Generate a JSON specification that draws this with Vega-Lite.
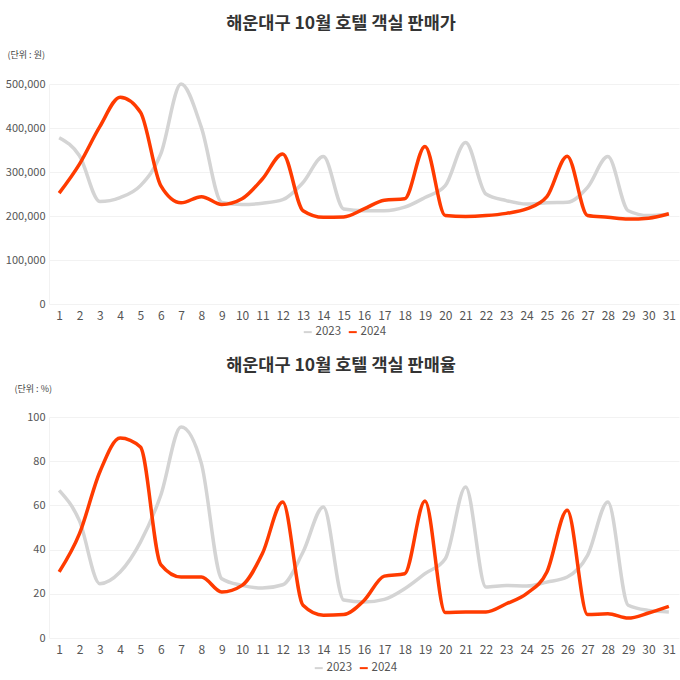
{
  "$schema": "https://vega.github.io/schema/vega-lite/v6.json",
  "padding": {"left": 5, "right": 2, "top": 14, "bottom": 5},
  "background": "white",
  "spacing": 18,
  "resolve": {"legend": {"color": "independent"}},
  "datasets": {
    "hotel": [
      {"day": 1, "year": "2023", "price": 378000, "rate": 66.8},
      {"day": 2, "year": "2023", "price": 337000, "rate": 53},
      {"day": 3, "year": "2023", "price": 233000, "rate": 24.6},
      {"day": 4, "year": "2023", "price": 242000, "rate": 29.9},
      {"day": 5, "year": "2023", "price": 269000, "rate": 43.4},
      {"day": 6, "year": "2023", "price": 341000, "rate": 64.6},
      {"day": 7, "year": "2023", "price": 500000, "rate": 95.5},
      {"day": 8, "year": "2023", "price": 401000, "rate": 78.9},
      {"day": 9, "year": "2023", "price": 231000, "rate": 26.8},
      {"day": 10, "year": "2023", "price": 226000, "rate": 23.8},
      {"day": 11, "year": "2023", "price": 229000, "rate": 22.6},
      {"day": 12, "year": "2023", "price": 237000, "rate": 24.1},
      {"day": 13, "year": "2023", "price": 276000, "rate": 38.9},
      {"day": 14, "year": "2023", "price": 335000, "rate": 59.3},
      {"day": 15, "year": "2023", "price": 216000, "rate": 17.2},
      {"day": 16, "year": "2023", "price": 212000, "rate": 16.3},
      {"day": 17, "year": "2023", "price": 212000, "rate": 17.5},
      {"day": 18, "year": "2023", "price": 220000, "rate": 22.3},
      {"day": 19, "year": "2023", "price": 242000, "rate": 29.1},
      {"day": 20, "year": "2023", "price": 269000, "rate": 35.9},
      {"day": 21, "year": "2023", "price": 367000, "rate": 68.3},
      {"day": 22, "year": "2023", "price": 250000, "rate": 23.1},
      {"day": 23, "year": "2023", "price": 235000, "rate": 23.8},
      {"day": 24, "year": "2023", "price": 227000, "rate": 23.5},
      {"day": 25, "year": "2023", "price": 230000, "rate": 25.3},
      {"day": 26, "year": "2023", "price": 231000, "rate": 27.6},
      {"day": 27, "year": "2023", "price": 265000, "rate": 37.4},
      {"day": 28, "year": "2023", "price": 335000, "rate": 61.5},
      {"day": 29, "year": "2023", "price": 212000, "rate": 14.8},
      {"day": 30, "year": "2023", "price": 201000, "rate": 12.5},
      {"day": 31, "year": "2023", "price": 204000, "rate": 11.8},
      {"day": 1, "year": "2024", "price": 252000, "rate": 29.9},
      {"day": 2, "year": "2024", "price": 318000, "rate": 47.2},
      {"day": 3, "year": "2024", "price": 403000, "rate": 75.1},
      {"day": 4, "year": "2024", "price": 470000, "rate": 90.5},
      {"day": 5, "year": "2024", "price": 436000, "rate": 86.4},
      {"day": 6, "year": "2024", "price": 269000, "rate": 33.2},
      {"day": 7, "year": "2024", "price": 230000, "rate": 27.6},
      {"day": 8, "year": "2024", "price": 244000, "rate": 27.6},
      {"day": 9, "year": "2024", "price": 226000, "rate": 20.8},
      {"day": 10, "year": "2024", "price": 239000, "rate": 23.8},
      {"day": 11, "year": "2024", "price": 284000, "rate": 38.2},
      {"day": 12, "year": "2024", "price": 341000, "rate": 61.5},
      {"day": 13, "year": "2024", "price": 212000, "rate": 14.8},
      {"day": 14, "year": "2024", "price": 197000, "rate": 10.3},
      {"day": 15, "year": "2024", "price": 198000, "rate": 10.6},
      {"day": 16, "year": "2024", "price": 216000, "rate": 17},
      {"day": 17, "year": "2024", "price": 236000, "rate": 28},
      {"day": 18, "year": "2024", "price": 239000, "rate": 29.1},
      {"day": 19, "year": "2024", "price": 358000, "rate": 62},
      {"day": 20, "year": "2024", "price": 201000, "rate": 11.5},
      {"day": 21, "year": "2024", "price": 199000, "rate": 11.8},
      {"day": 22, "year": "2024", "price": 201000, "rate": 11.8},
      {"day": 23, "year": "2024", "price": 206000, "rate": 15.5},
      {"day": 24, "year": "2024", "price": 216000, "rate": 20.1},
      {"day": 25, "year": "2024", "price": 244000, "rate": 29.9},
      {"day": 26, "year": "2024", "price": 336000, "rate": 57.8},
      {"day": 27, "year": "2024", "price": 201000, "rate": 10.6},
      {"day": 28, "year": "2024", "price": 197000, "rate": 11},
      {"day": 29, "year": "2024", "price": 193000, "rate": 9},
      {"day": 30, "year": "2024", "price": 195000, "rate": 11.3},
      {"day": 31, "year": "2024", "price": 205000, "rate": 14.3}
    ]
  },
  "vconcat": [
    {
      "title": {"text": "해운대구 10월 호텔 객실 판매가", "offset": 18},
      "width": 630,
      "height": 220,
      "data": {"name": "hotel"},
      "mark": {"type": "line", "interpolate": "monotone", "strokeWidth": 3.5},
      "encoding": {
        "x": {
          "field": "day",
          "type": "ordinal",
          "scale": {"type": "point", "padding": 0.5},
          "axis": {"title": null, "labelAngle": 0}
        },
        "y": {
          "field": "price",
          "type": "quantitative",
          "scale": {"domain": [0, 500000]},
          "axis": {
            "values": [0, 100000, 200000, 300000, 400000, 500000],
            "format": ",.0f",
            "title": "(단위 : 원)",
            "titleX": -42,
            "titleY": -30
          }
        },
        "color": {
          "field": "year",
          "type": "nominal",
          "scale": {"domain": ["2023", "2024"], "range": ["#d4d4d4", "#ff3b00"]},
          "legend": {"orient": "none", "legendX": 253, "legendY": 242}
        }
      }
    },
    {
      "title": {"text": "해운대구 10월 호텔 객실 판매율", "offset": 10},
      "width": 630,
      "height": 221,
      "data": {"name": "hotel"},
      "mark": {"type": "line", "interpolate": "monotone", "strokeWidth": 3.5},
      "encoding": {
        "x": {
          "field": "day",
          "type": "ordinal",
          "scale": {"type": "point", "padding": 0.5},
          "axis": {"title": null, "labelAngle": 0}
        },
        "y": {
          "field": "rate",
          "type": "quantitative",
          "scale": {"domain": [0, 100]},
          "axis": {
            "values": [0, 20, 40, 60, 80, 100],
            "title": "(단위 : %)",
            "titleX": -35,
            "titleY": -29
          }
        },
        "color": {
          "field": "year",
          "type": "nominal",
          "scale": {"domain": ["2023", "2024"], "range": ["#d4d4d4", "#ff3b00"]},
          "legend": {"orient": "none", "legendX": 264, "legendY": 245}
        }
      }
    }
  ],
  "config": {
    "font": "Noto Sans CJK KR",
    "view": {"stroke": null},
    "title": {"fontSize": 17.5, "fontWeight": "bold", "color": "#333333", "anchor": "middle", "frame": "group", "dx": -23},
    "axis": {
      "labelFont": "Noto Sans CJK KR",
      "labelFontSize": 12,
      "labelColor": "#555555",
      "gridColor": "#f2f2f2",
      "gridWidth": 1,
      "ticks": false,
      "domain": false,
      "labelPadding": 6,
      "titleFontSize": 9,
      "titleFontWeight": "normal",
      "titleColor": "#444444",
      "titleAngle": 0,
      "titleAlign": "left",
      "titleBaseline": "middle"
    },
    "axisY": {"labelPadding": 4, "labelFontSize": 11, "domain": true, "domainColor": "#f2f2f2"},
    "legend": {
      "direction": "horizontal",
      "title": null,
      "symbolType": "stroke",
      "symbolStrokeWidth": 2,
      "symbolSize": 64,
      "labelFontSize": 11.5,
      "labelColor": "#555555",
      "columnPadding": 2,
      "labelOffset": 2
    }
  }
}
